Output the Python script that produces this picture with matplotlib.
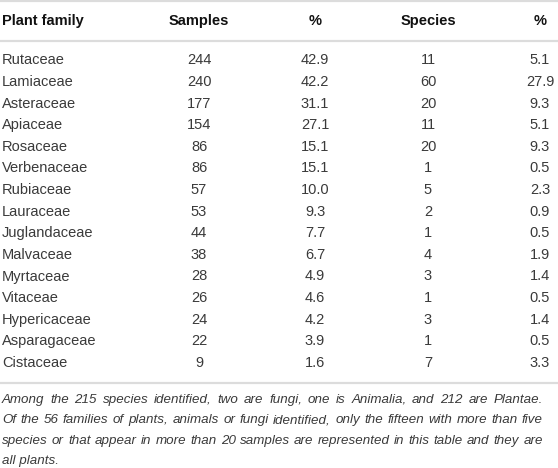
import matplotlib
matplotlib.use("Agg")
import matplotlib.pyplot as plt

families = ["Rutaceae", "Lamiaceae", "Asteraceae", "Apiaceae", "Rosaceae", "Verbenaceae",
            "Rubiaceae", "Lauraceae", "Juglandaceae", "Malvaceae", "Myrtaceae", "Vitaceae",
            "Hypericaceae", "Asparagaceae", "Cistaceae"]
samples = [244, 240, 177, 154, 86, 86, 57, 53, 44, 38, 28, 26, 24, 22, 9]
samples_pct = [42.9, 42.2, 31.1, 27.1, 15.1, 15.1, 10.0, 9.3, 7.7, 6.7, 4.9, 4.6, 4.2, 3.9, 1.6]
species = [11, 60, 20, 11, 20, 1, 5, 2, 1, 4, 3, 1, 3, 1, 7]
species_pct = [5.1, 27.9, 9.3, 5.1, 9.3, 0.5, 2.3, 0.9, 0.5, 1.9, 1.4, 0.5, 1.4, 0.5, 3.3]
headers = ["Plant family", "Samples", "%", "Species", "%"]
caption = ["Among the 215 species identified, two are fungi, one is Animalia, and 212 are Plantae.",
           "Of the 56 families of plants, animals or fungi identified, only the fifteen with more than five",
           "species or that appear in more than 20 samples are represented in this table and they are",
           "all plants."]

plt.rcParams['font.family'] = ['Liberation Sans', 'DejaVu Sans']
W, H = 558, 468
fig = plt.figure(figsize=(W / 100, H / 100), dpi=100)
ax = fig.add_axes([0, 0, 1, 1])
ax.set_xlim(0, W)
ax.set_ylim(H, 0)
ax.axis("off")

col_x = [2, 199, 315, 428, 540]
col_ha = ["left", "center", "center", "center", "center"]
fs = 10.5
body_color = "#3a3a3a"
line_color = "#dcdcdc"

for y in (1, 40.5, 383):
    ax.plot([0, W], [y, y], color=line_color, lw=1.6, solid_capstyle="butt")

for x, ha, h in zip(col_x, col_ha, headers):
    ax.text(x, 21, h, ha=ha, va="center", fontsize=fs, fontweight="bold", color="#111111")

y0, dy = 60.5, 21.6
for i in range(len(families)):
    y = y0 + i * dy
    vals = [families[i], f"{samples[i]}", f"{samples_pct[i]:.1f}", f"{species[i]}", f"{species_pct[i]:.1f}"]
    for x, ha, v in zip(col_x, col_ha, vals):
        ax.text(x, y, v, ha=ha, va="center", fontsize=fs, color=body_color)

# justified caption; font size chosen so the longest line fits with tight spacing
renderer = fig.canvas.get_renderer()
left, right = 2.0, 543.0
base_fs = 10.0
maxw = 0
for line in caption[:-1]:
    t = ax.text(0, 0, line, fontsize=base_fs, style="italic")
    maxw = max(maxw, t.get_window_extent(renderer=renderer).width)
    t.remove()
cap_fs = base_fs * (right - left - 6) / maxw

for j, line in enumerate(caption):
    y = 403 + j * 20.3
    words = line.split(" ")
    if j == len(caption) - 1:
        ax.text(left, y, line, ha="left", va="baseline", fontsize=cap_fs,
                style="italic", color=body_color)
        continue
    arts, widths = [], []
    for w in words:
        t = ax.text(0, y, w, ha="left", va="baseline", fontsize=cap_fs,
                    style="italic", color=body_color)
        arts.append(t)
        widths.append(t.get_window_extent(renderer=renderer).width)
    gap = (right - left - sum(widths)) / (len(words) - 1)
    x = left
    for t, wdt in zip(arts, widths):
        t.set_x(x)
        x += wdt + gap

fig.savefig("out.png", dpi=100)
